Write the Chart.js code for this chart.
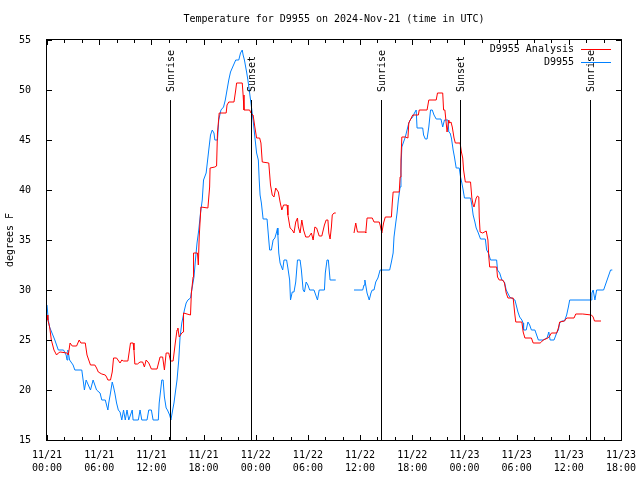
<!DOCTYPE html>
<html>
<head>
<meta charset="utf-8">
<script src="https://cdn.jsdelivr.net/npm/chart.js@4"></script>
<style>
    body { margin: 0; background: #fff; }
    canvas { display: block; }
</style>
</head>
<body>
<canvas id="graph-temp" width="640" height="480"></canvas>
<script>
// hours since 11/21 00:00 UTC, temperature in degrees F
const analysisHours = [0, 0.1, 0.3, 0.5, 0.8, 1.1, 1.3, 1.5, 2.3, 2.45, 2.65, 2.9, 3.4, 3.7, 3.9, 4.4, 4.6, 4.8, 5.0, 5.5,
    5.7, 5.9, 6.3, 6.7, 6.85, 7.0, 7.3, 7.5, 7.65, 8.0, 8.4, 8.6, 8.8, 9.3, 9.6, 9.9, 10.0, 10.1, 10.4, 10.7,
    11.0, 11.2, 11.4, 11.7, 12.0, 12.65, 13.0, 13.3, 13.5, 13.7, 14.0, 14.2, 14.5, 14.75, 14.95, 15.05, 15.2, 15.5, 15.65, 15.7,
    16.5, 16.6, 16.8, 16.85, 17.3, 17.4, 17.5, 17.7, 18.5, 18.7, 18.75, 19.3, 19.5, 19.6, 19.8, 20.6, 20.7, 20.9, 21.5, 21.7,
    21.8, 22.45, 22.55, 22.65, 23.3, 23.45, 23.7, 23.9, 24.1, 24.45, 24.6, 24.75, 25.5, 25.7, 25.9, 26.1, 26.3, 26.6, 26.8, 27.0,
    27.2, 27.6, 27.7, 27.95, 28.2, 28.4, 28.6, 28.8, 28.9, 29.1, 29.3, 29.5, 29.75, 30.1, 30.4, 30.6, 30.8, 31.0, 31.3, 31.6,
    31.9, 32.1, 32.3, 32.4, 32.55, 32.7, 32.8, 33.0, 33.2, 34.0,
    35.3, 35.5, 35.7, 36.6, 36.65, 36.8, 37.4, 37.6, 38.2, 38.3, 38.5, 38.7, 38.9, 39.6, 39.7, 39.8, 40.5, 40.6, 40.7, 40.8,
    41.2, 41.5, 41.6, 42.05, 42.7, 42.8, 43.7, 43.9, 44.75, 44.9, 45.5, 45.6, 45.75, 45.9, 46.0, 46.2, 46.3, 46.45, 46.6, 46.8,
    46.95, 47.5, 47.65, 47.8, 47.9, 48.1, 48.7, 48.85, 49.0, 49.1, 49.35, 49.5, 49.65, 49.7, 49.8, 50.1, 50.5, 50.7, 50.8, 50.9,
    51.7, 51.8, 52.0, 52.4, 52.6, 52.8, 53.0, 53.6, 53.8, 53.9, 54.6, 54.75, 54.95, 55.7, 55.9, 56.7, 56.85, 57.05, 57.6, 57.8,
    58.0, 58.6, 58.8, 58.95, 59.5, 59.65, 59.8, 60.6, 60.8, 61.6, 62.6, 62.8, 62.95, 63.7];
const analysisTemps = [27.5, 27, 26.3, 25, 24, 23.5, 23.7, 23.8, 23.7, 23.5, 24.7, 24.4, 24.4, 25, 24.7, 24.7, 23.5, 23, 22.5, 22.5,
    22.2, 21.8, 21.6, 21.5, 21.3, 21, 21, 21.8, 23.2, 23.2, 22.7, 23, 22.9, 22.9, 24.7, 24.7, 24, 22.6, 22.6, 22.8,
    22.8, 22.3, 23, 22.7, 22.1, 22.1, 23.3, 23.3, 22, 23.7, 23.7, 22.9, 22.9, 24.7, 26, 26.2, 25.3, 25.7, 25.8, 27.7,
    27.5, 29.7, 31.3, 33.7, 33.7, 32.5, 35.3, 38.3, 38.2, 40.3, 42.2, 42.3, 42.4, 45.7, 47.7, 47.7, 48.5, 48.8, 48.8, 50,
    50.7, 50.7, 49.5, 48, 48, 47.7, 47.5, 46.3, 45.2, 45.2, 44.7, 42.8, 42.7, 40.5, 39.5, 39.3, 40.2, 39.8, 38.8, 38,
    38.5, 38.5, 37.5, 36.2, 36, 35.7, 36.8, 37.2, 36.3, 35.7, 37, 36, 35.3, 35.3, 35.7, 35, 36.3, 36.2, 35.4, 35.4,
    36.5, 37, 37, 35.7, 35.1, 36.3, 37.5, 37.7, 37.7, null,
    35.7, 36.7, 35.8, 35.8, 35.7, 37.2, 37.2, 36.8, 36.8, 36.5, 35.7, 36.7, 37.3, 37.3, 38.7, 39.8, 39.8, 41.3, 43, 45.3,
    45.3, 45.2, 46.7, 47.5, 47.5, 48, 48, 49, 49, 49.7, 49.7, 48, 48, 46.7, 45.8, 47, 46.7, 46.8, 46.3, 45.2,
    44.7, 44.7, 43.8, 43.2, 42, 40.8, 40.8, 39.2, 38.5, 38.3, 39.2, 39.4, 39.3, 37.3, 35.8, 35.7, 35.9, 35, 33.3, 32.3,
    32.3, 31.3, 31, 31, 30.7, 29.7, 29.2, 29.2, 27.5, 26.8, 26.8, 25.8, 25.2, 25.2, 24.7, 24.7, 24.8, 25, 25.2, 25.4,
    25.7, 25.7, 26.2, 26.8, 26.9, 27.1, 27.2, 27.2, 27.6, 27.6, 27.5, 27.3, 26.9, 26.9];

const obsHours = [0, 0.15, 0.3, 0.9, 1.3, 1.9, 2.2, 2.3, 2.4, 2.6, 3.0, 3.2, 4.0, 4.2, 4.3, 4.5, 5.0, 5.3, 5.5, 5.7,
    6.1, 6.3, 6.7, 6.85, 7.0, 7.1, 7.3, 7.5, 7.65, 7.8, 8.0, 8.2, 8.4, 8.6, 8.8, 9.0, 9.2, 9.4, 9.8, 9.9,
    10.5, 10.7, 10.9, 11.5, 11.7, 12.0, 12.2, 12.8, 12.9, 13.2, 13.35, 13.5, 13.7, 13.85, 14.1, 14.25, 14.45, 14.6, 14.75, 14.95,
    15.15, 15.3, 15.5, 15.8, 16.0, 16.2, 16.5, 16.65, 16.9, 17.1, 17.25, 17.45, 17.65, 17.85, 18.0, 18.3, 18.6, 18.8, 19.0, 19.2,
    19.3, 19.6, 19.75, 20.0, 20.3, 20.5, 20.7, 20.9, 21.1, 21.3, 21.7, 22.05, 22.25, 22.45, 22.55, 22.7, 22.95, 23.1, 23.3, 23.45,
    23.7, 23.9, 24.1, 24.3, 24.4, 24.5, 24.65, 24.85, 25.3, 25.5, 25.6, 25.8, 26.0, 26.2, 26.4, 26.5, 26.55, 26.65, 26.8, 27.1,
    27.25, 27.55, 27.7, 27.9, 28.0, 28.2, 28.4, 28.6, 28.8, 29.1, 29.25, 29.45, 29.6, 29.8, 30.0, 30.2, 30.7, 30.9, 31.1, 31.3,
    31.9, 32.0, 32.2, 32.35, 32.55, 33.2, 34.0,
    35.3, 36.3, 36.45, 36.55, 36.8, 37.05, 37.25, 37.4, 37.6, 37.8, 38.05, 38.3, 39.4, 39.6, 39.8, 39.9, 40.1, 40.25, 40.4, 40.6,
    40.7, 40.8, 41.0, 41.2, 41.4, 41.6, 41.75, 42.05, 42.25, 42.45, 42.55, 43.2, 43.3, 43.5, 43.7, 43.9, 44.1, 44.3, 44.5, 44.75,
    45.3, 45.5, 45.7, 46.1, 46.2, 46.35, 46.5, 46.7, 46.85, 47.05, 47.4, 47.55, 47.7, 47.85, 48.0, 48.7, 48.85, 49.0, 49.2, 49.35,
    49.55, 49.85, 50.4, 50.55, 50.75, 51.0, 51.7, 51.8, 52.05, 52.3, 52.6, 52.8, 53.2, 53.8, 53.95, 54.15, 54.35, 54.6, 54.75, 54.8,
    55.1, 55.3, 55.5, 55.7, 56.1, 56.3, 56.5, 57.05, 57.5, 57.7, 57.85, 58.3, 58.6, 58.8, 58.95, 59.2, 59.5, 59.75, 59.95, 60.1,
    62.6, 62.65, 62.8, 63.0, 63.2, 64.0, 64.2, 64.4, 64.6, 64.8, 65.0];
const obsTemps = [28.5, 27, 26.3, 25, 24, 24, 23.5, 23, 24, 23, 22.5, 22, 22, 20.7, 20, 21, 20, 21, 20.5, 20,
    19.7, 19, 19, 18.5, 18, 18.7, 19.7, 20.8, 20.3, 19.7, 18.7, 18, 17.8, 17, 18, 17, 18, 17, 18, 17,
    17, 18, 17, 17, 18, 18, 17, 17, 18.7, 21, 21, 19.3, 18.2, 18, 17.5, 17, 18, 18.7, 19.7, 21,
    23, 25.3, 26.7, 28, 28.7, 29, 29.2, 30, 31.3, 33.3, 34.7, 36, 37.7, 39, 41, 41.7, 44, 45.5, 46, 45.7,
    45, 45, 47, 48, 48.3, 49, 50, 51, 51.8, 52.2, 53, 53, 53.7, 54, 53.5, 53, 51.8, 51, 49.7, 48.7,
    47, 45.3, 43.7, 43, 41, 39.5, 38.7, 37.1, 37.1, 35, 34, 34, 35, 35.2, 35.8, 36.2, 35.5, 33.7, 32.7, 32,
    33, 33, 32.2, 31, 29, 29.8, 29.8, 30.8, 33, 33, 32, 30, 29.8, 30.8, 30.5, 30, 30, 29.5, 29, 30,
    30, 31.7, 33, 33, 31, 31, null,
    30, 30, 30.5, 31, 29.7, 29, 29.7, 30, 30, 30.8, 31.2, 32, 32, 32.8, 33.7, 35.3, 36.7, 37.7, 39, 40.3,
    42, 44.3, 44.8, 45.3, 46, 46.7, 47, 47.3, 47.7, 48, 46.2, 46.2, 45.5, 45.1, 45.1, 46.3, 48, 48, 47.5, 47.1,
    47.1, 46.3, 47, 47, 45.8, 45.7, 45.2, 44, 43.3, 42.2, 42.2, 41.3, 40.7, 40, 39.2, 39.2, 38.5, 37.5, 36.8, 36.2,
    35.8, 35.1, 35.1, 34, 33.7, 33, 33, 32, 31.7, 31, 30.8, 30, 29.3, 29, 28.5, 27.8, 27.3, 27, 26.7, 26,
    26, 26.8, 26.5, 26, 26, 25.5, 25, 25, 25.2, 25.8, 25, 25, 25.7, 26, 26.7, 26.9, 26.9, 27.5, 28.3, 29,
    29, 29.7, 30, 29, 30, 30, 30.5, 31, 31.5, 32, 32];

const sunHours = [14.2, 23.4, 38.35, 47.45, 62.45];
const sunLabels = ['Sunrise', 'Sunset', 'Sunrise', 'Sunset', 'Sunrise'];

const xTickLabels = ['11/21', '11/21', '11/21', '11/21', '11/22', '11/22', '11/22', '11/22', '11/23', '11/23', '11/23', '11/23'];
const xTickTimes = ['00:00', '06:00', '12:00', '18:00', '00:00', '06:00', '12:00', '18:00', '00:00', '06:00', '12:00', '18:00'];

const FONT = '"DejaVu Sans Mono", monospace';

function toPoints(hours, temps) {
    return hours.map((h, i) => ({ x: h, y: temps[i] }));
}

// cadre, graduations vers l'intérieur, lignes lever/coucher, titre et légende
const decorPlugin = {
    id: 'decor',
    afterDraw(chart) {
        const ctx = chart.ctx;
        const area = chart.chartArea;
        const xs = chart.scales.x;
        const ys = chart.scales.y;
        ctx.save();
        ctx.strokeStyle = '#000';
        ctx.lineWidth = 1;
        ctx.strokeRect(Math.round(area.left) - 0.5, Math.round(area.top) - 0.5,
            Math.round(area.right - area.left) + 1, Math.round(area.bottom - area.top) + 1);

        ctx.beginPath();
        for (let h = 0; h <= 66; h += 2) {
            const px = Math.round(xs.getPixelForValue(h)) + 0.5;
            const len = h % 6 === 0 ? 5 : 3;
            ctx.moveTo(px, area.bottom);
            ctx.lineTo(px, area.bottom - len);
            ctx.moveTo(px, area.top);
            ctx.lineTo(px, area.top + len);
        }
        for (let t = 15; t <= 55; t += 5) {
            const py = Math.round(ys.getPixelForValue(t)) + 0.5;
            ctx.moveTo(area.left, py);
            ctx.lineTo(area.left + 5, py);
            ctx.moveTo(area.right, py);
            ctx.lineTo(area.right - 5, py);
        }
        ctx.stroke();

        // lever / coucher du soleil
        ctx.font = '10px ' + FONT;
        ctx.fillStyle = '#000';
        sunHours.forEach((h, i) => {
            const px = Math.round(xs.getPixelForValue(h)) + 0.5;
            ctx.beginPath();
            ctx.moveTo(px, 100);
            ctx.lineTo(px, area.bottom);
            ctx.stroke();
            ctx.save();
            ctx.translate(px + 1, 92);
            ctx.rotate(-Math.PI / 2);
            ctx.textAlign = 'left';
            ctx.textBaseline = 'middle';
            ctx.fillText(sunLabels[i], 0, 0);
            ctx.restore();
        });

        // titre
        ctx.textAlign = 'center';
        ctx.textBaseline = 'middle';
        ctx.fillText('Temperature for D9955 on 2024-Nov-21 (time in UTC)', (area.left + area.right) / 2, 19);

        // légende
        const legend = [['D9955 Analysis', '#ff0000'], ['D9955', '#0080ff']];
        legend.forEach((item, i) => {
            const y = 49 + i * 13;
            ctx.fillStyle = '#000';
            ctx.textAlign = 'right';
            ctx.fillText(item[0], 574, y);
            ctx.strokeStyle = item[1];
            ctx.beginPath();
            ctx.moveTo(581, y + 0.5);
            ctx.lineTo(611, y + 0.5);
            ctx.stroke();
        });
        ctx.restore();
    }
};

new Chart(document.getElementById('graph-temp'), {
    type: 'line',
    data: {
        datasets: [
            {
                label: 'D9955 Analysis',
                data: toPoints(analysisHours, analysisTemps),
                borderColor: '#ff0000',
                borderWidth: 1,
                pointRadius: 0,
                tension: 0,
                spanGaps: false
            },
            {
                label: 'D9955',
                data: toPoints(obsHours, obsTemps),
                borderColor: '#0080ff',
                borderWidth: 1,
                pointRadius: 0,
                tension: 0,
                spanGaps: false
            }
        ]
    },
    options: {
        responsive: false,
        animation: false,
        layout: { padding: { top: 40, right: 19, left: 0, bottom: 0 } },
        plugins: {
            legend: { display: false },
            title: { display: false },
            tooltip: { enabled: false }
        },
        scales: {
            x: {
                type: 'linear',
                min: 0,
                max: 66,
                grid: { display: false },
                border: { display: false },
                ticks: {
                    stepSize: 6,
                    autoSkip: false,
                    maxRotation: 0,
                    padding: 1,
                    color: '#000',
                    font: { family: FONT, size: 10, lineHeight: 1.3 },
                    callback: (v) => {
                        const i = Math.round(v / 6);
                        return [xTickLabels[i], xTickTimes[i]];
                    }
                },
                afterFit: (s) => {
                    s.height = 40;
                    s.paddingLeft = 0;
                    s.paddingRight = 0;
                }
            },
            y: {
                min: 15,
                max: 55,
                grid: { display: false },
                border: { display: false },
                ticks: {
                    stepSize: 5,
                    padding: 8,
                    color: '#000',
                    font: { family: FONT, size: 10 }
                },
                title: {
                    display: true,
                    text: 'degrees F',
                    color: '#000',
                    font: { family: FONT, size: 10 }
                },
                afterFit: (s) => {
                    s.width = 47;
                    s.paddingTop = 0;
                    s.paddingBottom = 0;
                }
            }
        }
    },
    plugins: [decorPlugin]
});
</script>
</body>
</html>
